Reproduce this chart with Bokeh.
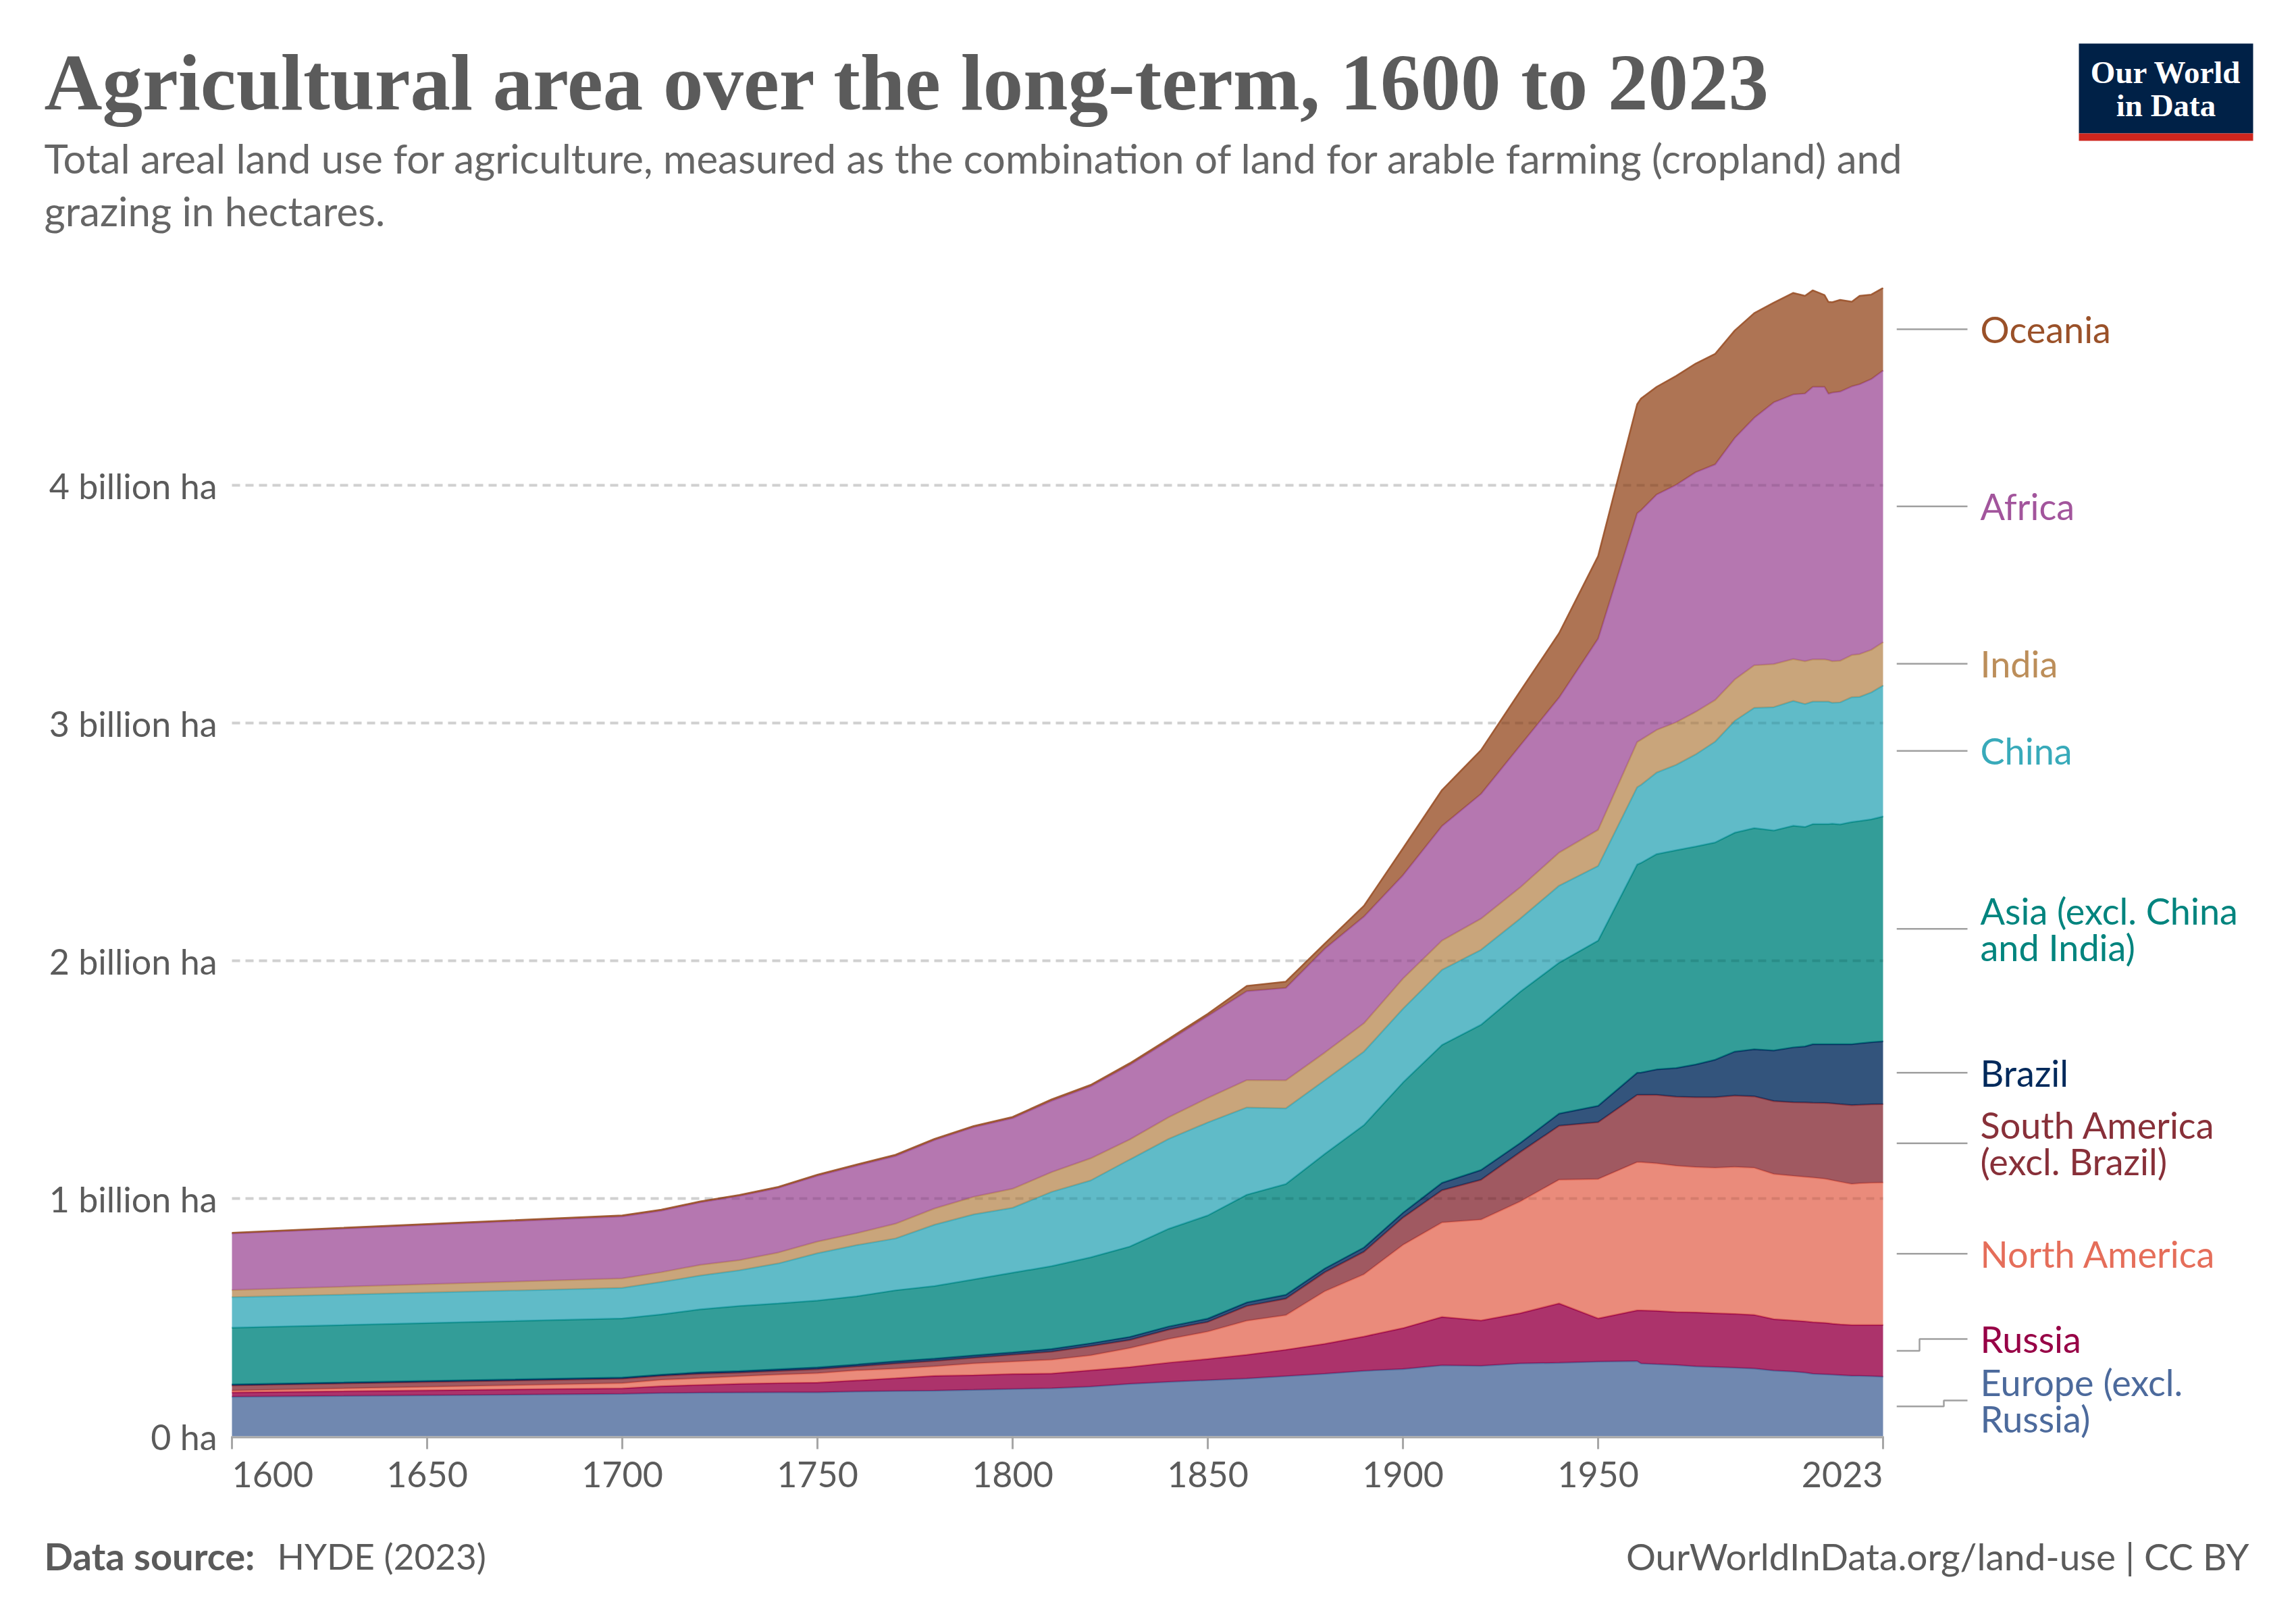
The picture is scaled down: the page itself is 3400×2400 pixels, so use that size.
import numpy as np
from bokeh.plotting import figure
from bokeh.layouts import column, row
from bokeh.models import Range1d, FixedTicker
from bokeh.core.properties import value
from bokeh.embed import file_html
from bokeh.resources import INLINE

# Agricultural land (cropland + grazing), billion hectares, by region
years = [1600, 1700, 1710, 1720, 1730, 1740, 1750, 1760, 1770, 1780, 1790,
         1800, 1810, 1820, 1830, 1840, 1850, 1860, 1870, 1880, 1890, 1900,
         1910, 1920, 1930, 1940, 1950, 1960, 1961, 1965, 1970, 1975, 1980,
         1985, 1990, 1995, 2000, 2003, 2005, 2008, 2009, 2010, 2012, 2015,
         2017, 2020, 2023]

europe = [0.166, 0.178, 0.182, 0.183, 0.184, 0.185, 0.185, 0.188, 0.190, 0.192, 0.195,
          0.199, 0.202, 0.209, 0.220, 0.229, 0.236, 0.243, 0.253, 0.263, 0.275, 0.283,
          0.298, 0.296, 0.306, 0.309, 0.314, 0.316, 0.306, 0.303, 0.300, 0.294, 0.291,
          0.288, 0.285, 0.276, 0.272, 0.268, 0.263, 0.261, 0.260, 0.259, 0.257, 0.254,
          0.254, 0.253, 0.251]
russia = [0.019, 0.024, 0.029, 0.033, 0.037, 0.039, 0.041, 0.047, 0.054, 0.062, 0.062,
          0.063, 0.062, 0.069, 0.071, 0.081, 0.089, 0.100, 0.111, 0.126, 0.145, 0.172,
          0.204, 0.191, 0.212, 0.250, 0.182, 0.214, 0.224, 0.225, 0.223, 0.227, 0.227,
          0.227, 0.226, 0.217, 0.215, 0.216, 0.217, 0.216, 0.216, 0.215, 0.214, 0.214,
          0.214, 0.215, 0.217]
north_america = [0.007, 0.021, 0.026, 0.028, 0.031, 0.035, 0.039, 0.042, 0.040, 0.040, 0.049,
                 0.052, 0.058, 0.062, 0.080, 0.099, 0.115, 0.143, 0.145, 0.221, 0.261, 0.350,
                 0.397, 0.424, 0.469, 0.520, 0.586, 0.623, 0.623, 0.620, 0.615, 0.611, 0.611,
                 0.618, 0.618, 0.610, 0.608, 0.607, 0.608, 0.606, 0.604, 0.603, 0.599, 0.593,
                 0.596, 0.598, 0.599]
south_america = [0.022, 0.019, 0.017, 0.019, 0.016, 0.016, 0.017, 0.017, 0.022, 0.023, 0.024,
                 0.029, 0.034, 0.039, 0.034, 0.040, 0.041, 0.062, 0.070, 0.080, 0.095, 0.115,
                 0.136, 0.168, 0.208, 0.227, 0.239, 0.283, 0.283, 0.288, 0.290, 0.294, 0.297,
                 0.300, 0.301, 0.307, 0.310, 0.313, 0.315, 0.319, 0.321, 0.323, 0.327, 0.332,
                 0.330, 0.330, 0.330]
brazil = [0.004, 0.005, 0.005, 0.006, 0.006, 0.007, 0.008, 0.008, 0.009, 0.010, 0.010,
          0.010, 0.011, 0.012, 0.013, 0.013, 0.014, 0.015, 0.016, 0.016, 0.018, 0.020,
          0.031, 0.041, 0.038, 0.051, 0.069, 0.093, 0.094, 0.107, 0.121, 0.138, 0.158,
          0.185, 0.198, 0.213, 0.231, 0.236, 0.246, 0.247, 0.248, 0.249, 0.252, 0.256,
          0.259, 0.262, 0.264]
asia = [0.239, 0.249, 0.254, 0.265, 0.274, 0.277, 0.281, 0.287, 0.299, 0.305, 0.320,
        0.335, 0.349, 0.362, 0.380, 0.411, 0.434, 0.453, 0.466, 0.482, 0.515, 0.548,
        0.580, 0.611, 0.636, 0.635, 0.695, 0.876, 0.882, 0.906, 0.916, 0.917, 0.914,
        0.921, 0.930, 0.925, 0.932, 0.923, 0.926, 0.926, 0.926, 0.928, 0.925, 0.935,
        0.935, 0.937, 0.946]
china = [0.128, 0.128, 0.136, 0.142, 0.150, 0.168, 0.199, 0.215, 0.218, 0.258, 0.273,
         0.273, 0.312, 0.323, 0.366, 0.378, 0.391, 0.367, 0.318, 0.310, 0.309, 0.310,
         0.316, 0.315, 0.308, 0.324, 0.314, 0.325, 0.328, 0.343, 0.359, 0.387, 0.424,
         0.470, 0.506, 0.519, 0.525, 0.517, 0.515, 0.515, 0.515, 0.508, 0.513, 0.525,
         0.522, 0.534, 0.551]
india = [0.030, 0.040, 0.041, 0.045, 0.043, 0.046, 0.049, 0.050, 0.062, 0.068, 0.074,
         0.080, 0.083, 0.093, 0.084, 0.091, 0.103, 0.115, 0.118, 0.116, 0.119, 0.127,
         0.123, 0.131, 0.131, 0.139, 0.152, 0.190, 0.190, 0.179, 0.179, 0.179, 0.175,
         0.174, 0.179, 0.181, 0.176, 0.180, 0.178, 0.178, 0.175, 0.175, 0.175, 0.177,
         0.180, 0.179, 0.182]
africa = [0.238, 0.261, 0.259, 0.263, 0.270, 0.272, 0.277, 0.284, 0.285, 0.288, 0.293,
          0.297, 0.300, 0.303, 0.314, 0.322, 0.345, 0.374, 0.389, 0.437, 0.449, 0.435,
          0.482, 0.525, 0.597, 0.652, 0.804, 0.962, 0.965, 0.990, 0.999, 1.008, 0.991,
          1.016, 1.041, 1.101, 1.113, 1.126, 1.146, 1.146, 1.120, 1.130, 1.132, 1.130,
          1.135, 1.139, 1.143]
oceania = [0.003, 0.004, 0.004, 0.004, 0.004, 0.004, 0.004, 0.005, 0.005, 0.005, 0.005,
           0.005, 0.006, 0.006, 0.007, 0.008, 0.009, 0.022, 0.026, 0.022, 0.045, 0.113,
           0.151, 0.184, 0.228, 0.271, 0.347, 0.459, 0.470, 0.453, 0.458, 0.457, 0.465,
           0.452, 0.440, 0.419, 0.427, 0.411, 0.406, 0.386, 0.386, 0.380, 0.386, 0.356,
           0.372, 0.355, 0.347]

y_ticks = [0, 1, 2, 3, 4]
y_tick_labels = ["0 ha", "1 billion ha", "2 billion ha", "3 billion ha", "4 billion ha"]
x_ticks = [1600, 1650, 1700, 1750, 1800, 1850, 1900, 1950, 2023]

# bottom-to-top stacking order: (label lines, values, colour)
series = [
    (["Europe (excl.", "Russia)"], europe, "#4C6A9C"),
    (["Russia"], russia, "#970046"),
    (["North America"], north_america, "#E56E5A"),
    (["South America", "(excl. Brazil)"], south_america, "#883039"),
    (["Brazil"], brazil, "#00295B"),
    (["Asia (excl. China", "and India)"], asia, "#00847E"),
    (["China"], china, "#38AABA"),
    (["India"], india, "#BC8E5A"),
    (["Africa"], africa, "#A2559C"),
    (["Oceania"], oceania, "#9A5129"),
]

# ---- page geometry (pixels) ----
W, H = 3400, 2400
HEADER_H, FOOTER_TOP = 380, 2240
PX_L, PX_R, PX_B = 343, 2788, 2126
PAD = 10
PX_PER_UNIT = 352.0
MAIN_W = 2808
X0, X1 = years[0], years[-1]

stack = np.cumsum(np.array([s[1] for s in series]), axis=0)
ymax = float(stack[-1].max())
PX_T = int(np.floor(PX_B - PX_PER_UNIT * ymax))
px_per_year = (PX_R - PX_L) / (X1 - X0)


def dx(px):
    return X0 + (px - PX_L) / px_per_year


def dy(py):
    return (PX_B - py) / PX_PER_UNIT


GRAY = "#5b5b5b"
FONT = "Lato"
SERIF = "Liberation Serif"


def blank(width, height, x_range, y_range):
    f = figure(width=width, height=height, x_range=x_range, y_range=y_range,
               output_backend="svg", toolbar_location=None,
               x_axis_location=None, y_axis_location=None, min_border=0)
    f.outline_line_color = None
    f.grid.visible = False
    f.background_fill_color = "white"
    f.border_fill_color = "white"
    return f


def txt(f, x, y, s, size, color, align="left", font=FONT, style="normal"):
    f.text(x=[x], y=[y], text=[s], text_align=align, text_baseline="middle",
           text_font=value(font), text_font_size=value(size),
           text_font_style=value(style), text_color=color)


# ---- header: title, subtitle, logo (page-pixel coordinates) ----
head = blank(W, HEADER_H, Range1d(0, W), Range1d(HEADER_H, 0))
txt(head, 65, 121, "Agricultural area over the long-term, 1600 to 2023", "119px",
    "#5b5b5b", font=SERIF, style="bold")
subtitle = ["Total areal land use for agriculture, measured as the combination of land for arable farming (cropland) and",
            "grazing in hectares."]
for k, s in enumerate(subtitle):
    txt(head, 65, 233 + 78 * k, s, "60px", "#666666")
head.quad(left=[3078], right=[3336], top=[64], bottom=[197], fill_color="#002147", line_color=None)
head.quad(left=[3078], right=[3336], top=[197], bottom=[208], fill_color="#ce261e", line_color=None)
for k, s in enumerate(["Our World", "in Data"]):
    txt(head, 3207, 106 + 49 * k, s, "47px", "white", align="center", font=SERIF, style="bold")

# ---- main chart: plot area plus the time-axis band beneath it ----
y_range = Range1d(dy(FOOTER_TOP), dy(PX_T))
main = figure(width=MAIN_W, height=FOOTER_TOP - HEADER_H, output_backend="svg",
              toolbar_location=None, x_axis_location=None,
              x_range=Range1d(dx(PX_L - PAD), dx(PX_R + PAD)), y_range=y_range,
              min_border_left=PX_L - PAD, min_border_right=MAIN_W - PX_R - PAD,
              min_border_top=PX_T - HEADER_H, min_border_bottom=0)
main.outline_line_color = None
main.background_fill_color = "white"
main.border_fill_color = "white"
main.xgrid.visible = False
main.ygrid.visible = False

grid_y = y_ticks[1:]
n_grid = len(grid_y)
# light dashed gridlines behind the areas
main.segment(x0=[X0] * n_grid, x1=[X1] * n_grid, y0=grid_y, y1=grid_y,
             line_color="#dddddd", line_width=4, line_dash="12 8")

x = np.array(years, dtype=float)
base = np.zeros(len(years))
for i, (_, vals, col) in enumerate(series):
    top = stack[i]
    main.varea(x=x, y1=base, y2=top, fill_color=col, fill_alpha=0.8)
    main.line(x=x, y=top, line_color=col, line_width=2.5, line_alpha=0.9)
    base = top

# faint repeat of the gridlines over the areas
main.segment(x0=[X0] * n_grid, x1=[X1] * n_grid, y0=grid_y, y1=grid_y,
             line_color="#000000", line_alpha=0.06, line_width=4, line_dash="12 8")

main.yaxis.ticker = FixedTicker(ticks=y_ticks)
main.yaxis.major_label_overrides = {t: s for t, s in zip(y_ticks, y_tick_labels)}
main.yaxis.axis_line_color = None
main.yaxis.major_tick_line_color = None
main.yaxis.minor_tick_line_color = None
main.yaxis.major_tick_out = 0
main.yaxis.minor_tick_out = 0
main.yaxis.major_label_standoff = 22 - PAD
main.yaxis.major_label_text_font = FONT
main.yaxis.major_label_text_font_size = "52px"
main.yaxis.major_label_text_color = GRAY

# time axis: baseline, ticks and year labels
tick_top, tick_bottom = dy(PX_B), dy(PX_B + 19)
main.segment(x0=[X0], x1=[X1], y0=[dy(PX_B + 1.5)], y1=[dy(PX_B + 1.5)],
             line_color="#a6a6a6", line_width=3)
main.segment(x0=x_ticks, x1=x_ticks, y0=[tick_top] * len(x_ticks),
             y1=[tick_bottom] * len(x_ticks), line_color="#a6a6a6", line_width=3)
aligns = ["left"] + ["center"] * (len(x_ticks) - 2) + ["right"]
main.text(x=x_ticks, y=[dy(PX_B + 56)] * len(x_ticks), text=[str(t) for t in x_ticks],
          text_align=aligns, text_baseline="middle", text_font=value(FONT),
          text_font_size=value("52px"), text_color=GRAY)

# ---- right-hand labels with connectors (shares the chart's vertical scale) ----
side = blank(W - MAIN_W, FOOTER_TOP - HEADER_H, Range1d(MAIN_W, W), y_range)
side.min_border_top = PX_T - HEADER_H
LINE_H = 54
last = stack[:, -1]
lower = np.concatenate([[0.0], last[:-1]])
mids = (lower + last) / 2
mids_px = [PX_B - PX_PER_UNIT * m for m in mids]
centers = []
limit = PX_B + 1
for i, (lines, _, _) in enumerate(series):
    h = LINE_H * len(lines)
    c = min(mids_px[i], limit - h / 2)
    centers.append(c)
    limit = c - h / 2 - 10

LINE_X0, LINE_X1, TEXT_X = MAIN_W, PX_R + 125, PX_R + 144
step_xs = iter([PX_R + 90, PX_R + 54])
cx, cy = [], []
for i, (lines, _, col) in enumerate(series):
    m, c = mids[i], dy(centers[i])
    if abs(m - c) * PX_PER_UNIT < 1:
        cx.append([LINE_X0, LINE_X1])
        cy.append([m, m])
    else:
        sx = next(step_xs)
        cx.append([LINE_X0, sx, sx, LINE_X1])
        cy.append([m, m, c, c])
    n = len(lines)
    for k, s in enumerate(lines):
        ly = centers[i] + (k - (n - 1) / 2) * LINE_H
        txt(side, TEXT_X, dy(ly), s, "54px", col)
side.multi_line(xs=cx, ys=cy, line_color="#a0a0a0", line_width=2.5)

# ---- footer ----
foot = blank(W, H - FOOTER_TOP, Range1d(0, W), Range1d(H, FOOTER_TOP))
txt(foot, 65, 2303, "Data source:", "56px", GRAY, style="bold")
txt(foot, 410, 2303, "HYDE (2023)", "53px", GRAY)
txt(foot, 3330, 2303, "OurWorldInData.org/land-use | CC BY", "55px", GRAY, align="right")

page = column(head, row(main, side, spacing=0), foot, spacing=0)
open("out.html", "w").write(file_html(page, INLINE))
